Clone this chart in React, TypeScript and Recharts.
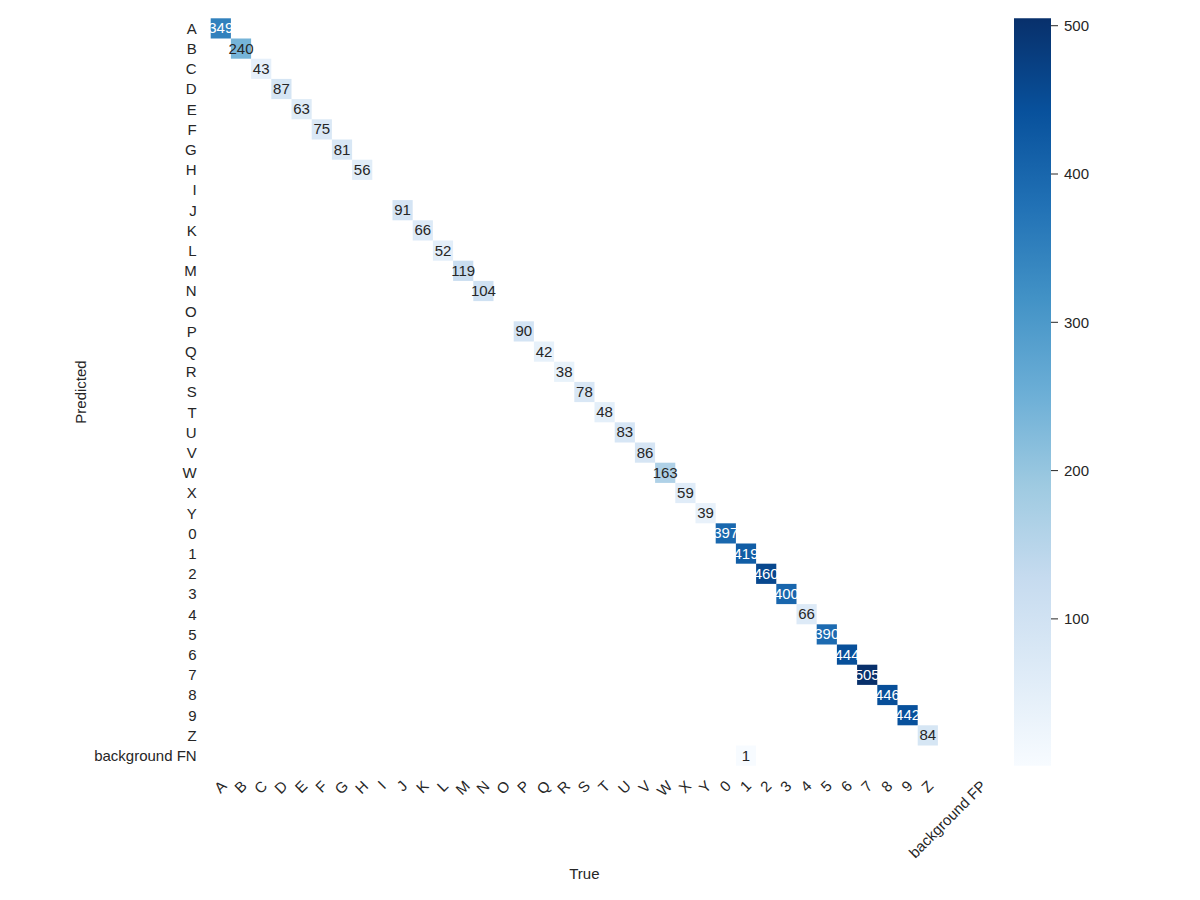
import React from "react";
import { Bar, BarChart, Scatter, ScatterChart, XAxis, YAxis } from "recharts";

const ROW_LABELS = [
  "A", "B", "C", "D", "E", "F", "G", "H", "I", "J", "K", "L", "M", "N", "O", "P", "Q", "R", "S",
  "T", "U", "V", "W", "X", "Y", "0", "1", "2", "3", "4", "5", "6", "7", "8", "9", "Z", "background FN",
];
const COL_LABELS = [
  "A", "B", "C", "D", "E", "F", "G", "H", "I", "J", "K", "L", "M", "N", "O", "P", "Q", "R", "S",
  "T", "U", "V", "W", "X", "Y", "0", "1", "2", "3", "4", "5", "6", "7", "8", "9", "Z", "background FP",
];
// counts on the diagonal, row i / column i (null = empty cell)
const DIAGONAL: (number | null)[] = [
  349, 240, 43, 87, 63, 75, 81, 56, null, 91, 66, 52, 119, 104, null, 90, 42, 38, 78, 48, 83, 86,
  163, 59, 39, 397, 419, 460, 400, 66, 390, 444, 505, 446, 442, 84,
];
const OFF_DIAGONAL = [{ row: "background FN", col: "1", value: 1 }];
const COLORBAR_TICKS = [100, 200, 300, 400, 500];

const BLUES = ["#f7fbff", "#deebf7", "#c6dbef", "#9ecae1", "#6baed6", "#4292c6", "#2171b5", "#08519c", "#08306b"];

const FONT = "'Liberation Sans', Arial, sans-serif";
const FONT_SIZE = 15;
const INK = "#262626";

const PLOT_LEFT = 210.7;
const PLOT_TOP = 18.3;
const PLOT_SIZE = 747.4;
const CELL = PLOT_SIZE / ROW_LABELS.length;
const CB_LEFT = 1014;
const CB_WIDTH = 37;

type Cell = { row: number; col: number; value: number };

const cells: Cell[] = [
  ...DIAGONAL.map((v, i) => (v == null ? null : { row: i, col: i, value: v })).filter(
    (c): c is Cell => c !== null
  ),
  ...OFF_DIAGONAL.map((c) => ({
    row: ROW_LABELS.indexOf(c.row),
    col: COL_LABELS.indexOf(c.col),
    value: c.value,
  })),
];

const VMIN = Math.min(...cells.map((c) => c.value));
const VMAX = Math.max(...cells.map((c) => c.value));

function hexToRgb(hex: string) {
  const n = parseInt(hex.slice(1), 16);
  return [(n >> 16) & 255, (n >> 8) & 255, n & 255];
}

function blues(value: number) {
  const t = Math.max(0, Math.min(1, (value - VMIN) / (VMAX - VMIN)));
  const pos = t * (BLUES.length - 1);
  const i = Math.min(Math.floor(pos), BLUES.length - 2);
  const f = pos - i;
  const a = hexToRgb(BLUES[i]);
  const b = hexToRgb(BLUES[i + 1]);
  return a.map((c, k) => c + (b[k] - c) * f);
}

function luminance(rgb: number[]) {
  const lin = rgb.map((c) => {
    const s = c / 255;
    return s <= 0.03928 ? s / 12.92 : Math.pow((s + 0.055) / 1.055, 2.4);
  });
  return 0.2126 * lin[0] + 0.7152 * lin[1] + 0.0722 * lin[2];
}

let measureCtx: CanvasRenderingContext2D | null = null;
function textWidth(s: string) {
  if (!measureCtx) measureCtx = document.createElement("canvas").getContext("2d");
  if (!measureCtx) return s.length * FONT_SIZE * 0.55;
  measureCtx.font = `${FONT_SIZE}px ${FONT}`;
  return measureCtx.measureText(s).width;
}

function HeatCell(props: any) {
  const { cx, cy, payload } = props;
  if (cx == null || cy == null) return null;
  const rgb = blues(payload.value);
  const fill = `rgb(${rgb.map((c) => Math.round(c)).join(",")})`;
  const textColor = luminance(rgb) > 0.408 ? INK : "#ffffff";
  return (
    <g>
      <rect x={cx - CELL / 2} y={cy - CELL / 2} width={CELL} height={CELL} fill={fill} />
      <text
        x={cx}
        y={cy}
        dy="0.33em"
        textAnchor="middle"
        fill={textColor}
        fontSize={FONT_SIZE}
        fontFamily={FONT}
      >
        {payload.value}
      </text>
    </g>
  );
}

function XTick({ x, y, payload }: any) {
  const label = COL_LABELS[payload.value];
  const w = textWidth(label);
  const h = FONT_SIZE * 1.15;
  const cy = y + ((w + h) * Math.SQRT1_2) / 2;
  return (
    <text
      x={x}
      y={cy}
      dy="0.3em"
      textAnchor="middle"
      transform={`rotate(-45, ${x}, ${cy})`}
      fill={INK}
      fontSize={FONT_SIZE}
      fontFamily={FONT}
    >
      {label}
    </text>
  );
}

function YTick({ x, y, payload }: any) {
  return (
    <text x={x} y={y} dy="0.355em" textAnchor="end" fill={INK} fontSize={FONT_SIZE} fontFamily={FONT}>
      {ROW_LABELS[payload.value]}
    </text>
  );
}

function XTitle({ viewBox }: any) {
  const vb = viewBox || { x: PLOT_LEFT, y: PLOT_TOP + PLOT_SIZE, width: PLOT_SIZE, height: 0 };
  return (
    <text
      x={vb.x + vb.width / 2}
      y={vb.y + 107.5}
      dy="0.355em"
      textAnchor="middle"
      fill={INK}
      fontSize={FONT_SIZE}
      fontFamily={FONT}
    >
      True
    </text>
  );
}

function YTitle({ viewBox }: any) {
  const vb = viewBox || { x: 0, y: PLOT_TOP, width: PLOT_LEFT, height: PLOT_SIZE };
  const cx = vb.x + 81;
  const cy = vb.y + vb.height / 2;
  return (
    <text
      x={cx}
      y={cy}
      dy="0.355em"
      textAnchor="middle"
      transform={`rotate(-90, ${cx}, ${cy})`}
      fill={INK}
      fontSize={FONT_SIZE}
      fontFamily={FONT}
    >
      Predicted
    </text>
  );
}

const indexTicks = ROW_LABELS.map((_, i) => i);
const colorbarData = [{ name: "scale", range: [VMIN, VMAX] }];

export default function App() {
  return (
    <div style={{ position: "absolute", left: 0, top: 0, width: 1200, height: 900, background: "#fff" }}>
      <svg width={0} height={0} style={{ position: "absolute" }}>
        <defs>
          <linearGradient id="bluesGradient" x1="0" y1="1" x2="0" y2="0">
            {BLUES.map((c, i) => (
              <stop key={c} offset={i / (BLUES.length - 1)} stopColor={c} />
            ))}
          </linearGradient>
        </defs>
      </svg>

      <div style={{ position: "absolute", left: 0, top: 0 }}>
        <ScatterChart
          width={1200}
          height={900}
          margin={{ top: PLOT_TOP, right: 1200 - PLOT_LEFT - PLOT_SIZE, bottom: 0, left: 0 }}
        >
          <XAxis
            type="number"
            dataKey="col"
            domain={[-0.5, COL_LABELS.length - 0.5]}
            ticks={indexTicks}
            interval={0}
            height={900 - PLOT_TOP - PLOT_SIZE}
            tickSize={0}
            tickMargin={12}
            tickLine={false}
            axisLine={false}
            tick={<XTick />}
            label={<XTitle />}
          />
          <YAxis
            type="number"
            dataKey="row"
            reversed
            domain={[-0.5, ROW_LABELS.length - 0.5]}
            ticks={indexTicks}
            interval={0}
            width={PLOT_LEFT}
            tickSize={0}
            tickMargin={14}
            tickLine={false}
            axisLine={false}
            tick={<YTick />}
            label={<YTitle />}
          />
          <Scatter data={cells} shape={HeatCell} isAnimationActive={false} />
        </ScatterChart>
      </div>

      <div style={{ position: "absolute", left: CB_LEFT, top: 0 }}>
        <BarChart
          width={CB_WIDTH + 80}
          height={900}
          data={colorbarData}
          margin={{ top: PLOT_TOP, right: 0, bottom: 900 - PLOT_TOP - PLOT_SIZE, left: 0 }}
          barCategoryGap={0}
        >
          <XAxis dataKey="name" hide />
          <YAxis
            orientation="right"
            type="number"
            domain={[VMIN, VMAX]}
            ticks={COLORBAR_TICKS}
            width={80}
            tickSize={7}
            tickMargin={6}
            axisLine={false}
            tickLine={{ stroke: INK }}
            tick={{ fill: INK, fontSize: FONT_SIZE, fontFamily: FONT }}
          />
          <Bar dataKey="range" fill="url(#bluesGradient)" isAnimationActive={false} />
        </BarChart>
      </div>
    </div>
  );
}
